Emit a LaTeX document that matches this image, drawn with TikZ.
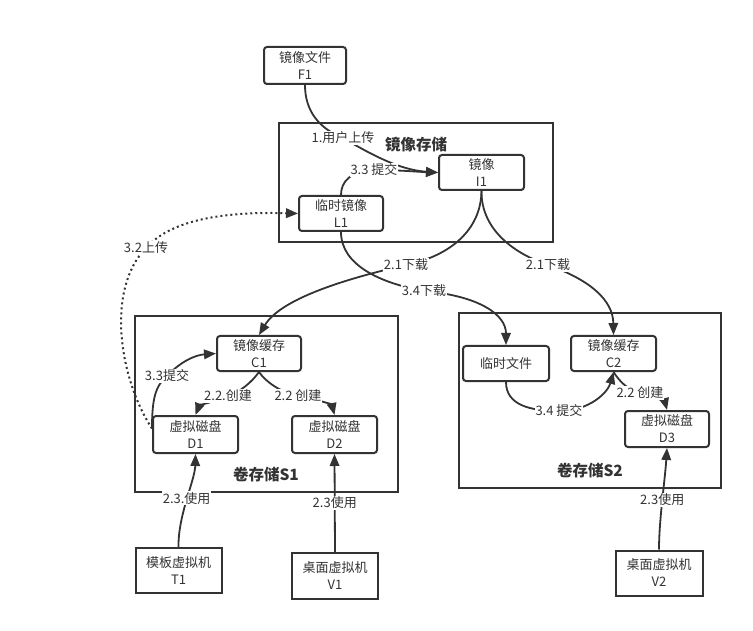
\documentclass[tikz,border=0pt]{standalone}
\usepackage{fontspec}
\setmainfont{Noto Sans CJK SC}
\usetikzlibrary{arrows.meta}
\definecolor{ink}{HTML}{333333}
\begin{document}
\begin{tikzpicture}[x=1pt,y=-1pt,
  font=\fontsize{13}{17}\selectfont, text=ink,
  box/.style={draw=ink, line width=2pt, rounded corners=3pt, fill=white, align=center, inner sep=0pt},
  sqbox/.style={draw=ink, line width=2pt, fill=white, align=center, inner sep=0pt},
  group/.style={draw=ink, line width=2pt, inner sep=0pt},
  gtitle/.style={font=\fontsize{15.5}{17}\selectfont\bfseries, inner sep=0pt},
  arr/.style={draw=ink, line width=1.8pt, -{Triangle[length=12pt,width=9.5pt]}},
  lab/.style={fill=white, inner sep=1pt, font=\fontsize{13}{15}\selectfont}
]
\useasboundingbox (0,0) rectangle (753,631);

% containers
\node[group, minimum width=274pt, minimum height=119pt] (MS) at (416,182.5) {};
\node[gtitle] (MSt) at (416,145) {镜像存储};
\node[group, minimum width=263pt, minimum height=176pt] (S1) at (266.5,404) {};
\node[gtitle] (S1t) at (266,475) {卷存储S1};
\node[group, minimum width=262pt, minimum height=175pt] (S2) at (590,400.5) {};
\node[gtitle] (S2t) at (590,471) {卷存储S2};

% boxes
\node[box, minimum width=82pt, minimum height=37pt] (F1) at (305,65.5) {镜像文件\\F1};
\node[box, minimum width=85pt, minimum height=35pt] (I1) at (481.5,172.5) {镜像\\I1};
\node[box, minimum width=84pt, minimum height=35pt] (L1) at (341,213.5) {临时镜像\\L1};
\node[box, minimum width=84pt, minimum height=35pt] (C1) at (259,353.5) {镜像缓存\\C1};
\node[box, minimum width=85pt, minimum height=37pt] (D1) at (195.5,434.5) {虚拟磁盘\\D1};
\node[box, minimum width=85pt, minimum height=37pt] (D2) at (334.5,434.5) {虚拟磁盘\\D2};
\node[box, minimum width=86pt, minimum height=35pt] (TF) at (506,363.5) {临时文件};
\node[box, minimum width=85pt, minimum height=35pt] (C2) at (613.5,353.5) {镜像缓存\\C2};
\node[box, minimum width=84pt, minimum height=36pt] (D3) at (667,429) {虚拟磁盘\\D3};
\node[sqbox, minimum width=86pt, minimum height=45pt] (T1) at (178.5,570.5) {模板虚拟机\\T1};
\node[sqbox, minimum width=86pt, minimum height=46pt] (V1) at (335,576) {桌面虚拟机\\V1};
\node[sqbox, minimum width=87pt, minimum height=45pt] (V2) at (659,573) {桌面虚拟机\\V2};

% connectors
\draw[arr] (F1.south) .. controls (305,110) and (318,128) .. (343,138) node[lab] (e1) {1.用户上传}
  .. controls (372,155) and (400,170) .. (I1.west);
\draw[arr] (L1.north) .. controls (341,182) and (350,171) .. (374,170) node[lab] (e2) {3.3 提交}
  .. controls (400,170) and (420,172) .. (I1.west);
\draw[arr] (I1.south) .. controls (481,230) and (450,256) .. (406,265) node[lab] (e3) {2.1下载}
  .. controls (340,280) and (280,300) .. (C1.north);
\draw[arr] (I1.south) .. controls (481,230) and (515,254) .. (548,265) node[lab] (e4) {2.1下载}
  .. controls (590,280) and (613,300) .. (C2.north);
\draw[arr] (L1.south) .. controls (341,265) and (380,283) .. (424,291) node[lab] (e5) {3.4下载}
  .. controls (480,296) and (506,315) .. (TF.north);
\draw[arr, line width=2pt, dash pattern=on 2pt off 3pt] ([yshift=6pt]D1.west) .. controls (120,380) and (105,290) .. (146,248) node[lab] (e6) {3.2上传}
  .. controls (175,215) and (240,212) .. (L1.west);
\draw[arr] ([yshift=6pt]D1.west) .. controls (152,400) and (155,386) .. (167,376) node[lab] (e7) {3.3提交}
  .. controls (180,362) and (195,355) .. (C1.west);
\draw[arr] (C1.south) .. controls (252,382) and (240,392) .. (228,396) node[lab] (e8) {2.2.创建}
  .. controls (212,402) and (199,406) .. (D1.north);
\draw[arr] (C1.south) .. controls (266,382) and (280,392) .. (298,396) node[lab] (e9) {2.2 创建}
  .. controls (320,400) and (332,405) .. (D2.north);
\draw[arr] (TF.south) .. controls (506,405) and (530,411) .. (559,411) node[lab] (e10) {3.4 提交}
  .. controls (590,411) and (608,392) .. (C2.south);
\draw[arr] (C2.south) .. controls (620,382) and (628,390) .. (640,393) node[lab] (e11) {2.2 创建}
  .. controls (655,398) and (665,402) .. (D3.north);
\draw[arr] (T1.north) .. controls (178,515) and (195,480) .. (D1.south) node[lab, pos=0.5] (e12) {2.3.使用};
\draw[arr] (V1.north) -- (D2.south) node[lab, midway] (e13) {2.3使用};
\draw[arr] (V2.north) .. controls (659,520) and (665,480) .. (D3.south) node[lab, pos=0.5] (e14) {2.3使用};
\end{tikzpicture}
\end{document}
